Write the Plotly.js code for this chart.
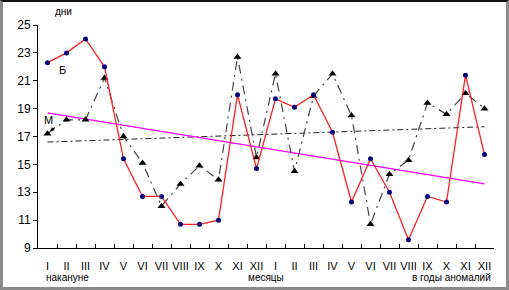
<!DOCTYPE html>
<html><head><meta charset="utf-8">
<script src="https://cdn.plot.ly/plotly-3.0.1.min.js"></script>
<style>
html,body{margin:0;padding:0;background:#fff;}
#chart{position:absolute;left:0;top:0;width:509px;height:290px;}
#frame{position:absolute;left:0;top:0;width:509px;height:290px;box-sizing:border-box;border-top:2px solid #111;border-left:3px solid #8a8a8a;border-right:3px solid #8a8a8a;border-bottom:3px solid #8a8a8a;pointer-events:none;z-index:10;}
</style></head><body>
<div id="chart"></div><div id="frame"></div>
<script>
var months = ["I","II","III","IV","V","VI","VII","VIII","IX","X","XI","XII","I","II","III","IV","V","VI","VII","VIII","IX","X","XI","XII"];
var seriesB = [22.3,23.0,24.0,22.0,15.4,12.7,12.7,10.7,10.7,11.0,20.0,14.7,19.7,19.1,20.0,17.3,12.3,15.4,13.0,9.6,12.7,12.3,21.4,15.7];
var seriesM = [17.2,18.2,18.2,21.2,17.0,15.1,12.0,13.6,14.9,13.9,22.7,15.5,21.5,14.5,19.9,21.5,18.5,10.7,14.3,15.3,19.4,18.6,20.1,19.0];
var trendB = [18.7,13.6];
var trendM = [16.6,17.7];
var yTicks = [9,11,13,15,17,19,21,23,25];

var idx = months.map(function(_,i){return i;});
var ends = [0, months.length-1];
var fam = "Liberation Sans, Arial, sans-serif";

var between = [];
for (var i=0;i<=months.length;i++) between.push(i-0.5);

var traces = [
 {x:ends, y:trendM, mode:"lines", line:{color:"#222", width:1, dash:"6px,3px,2px,3px"}, hoverinfo:"skip"},
 {x:ends, y:trendB, mode:"lines", line:{color:"#ff00ff", width:1.3}, hoverinfo:"skip"},
 {x:idx, y:seriesM, mode:"lines+markers", line:{color:"#444", width:1.2, dash:"9px,5px,2px,5px"},
  marker:{symbol:"triangle-up", size:7, color:"#000"}},
 {x:idx, y:seriesB, mode:"lines+markers", line:{color:"#ff2020", width:1.3},
  marker:{symbol:"circle", size:5, color:"#000080"}},
 {x:idx, y:seriesB, xaxis:"x2", mode:"markers", marker:{opacity:0, size:1}, hoverinfo:"skip"}
];

var layout = {
 width:509, height:290, showlegend:false,
 paper_bgcolor:"#fff", plot_bgcolor:"#fff",
 margin:{l:38, r:15, t:25, b:42},
 font:{family:fam, size:11, color:"#000"},
 xaxis:{range:[-0.5,23.5], tickmode:"array", tickvals:between, ticks:"inside", ticklen:4, tickcolor:"#000", showticklabels:false, showgrid:false,
   zeroline:false, showline:true, linecolor:"#000", linewidth:1},
 xaxis2:{range:[-0.5,23.5], overlaying:"x", side:"bottom", anchor:"y", tickmode:"array", tickvals:idx, ticktext:months,
   ticks:"outside", ticklen:8, tickcolor:"rgba(0,0,0,0)", showgrid:false, zeroline:false, showline:false,
   tickfont:{family:fam,size:11,color:"#000"}},
 yaxis:{range:[9,25], tickmode:"array", tickvals:yTicks, ticks:"outside", ticklen:4, tickcolor:"#000", showgrid:false,
   zeroline:false, showline:true, linecolor:"#000", linewidth:1, tickfont:{family:fam,size:12,color:"#000"}},
 annotations:[
  {xref:"paper", yref:"paper", x:0.055, y:1.06, text:"дни", showarrow:false, xanchor:"center", yanchor:"middle", font:{family:fam,size:10}},
  {xref:"x", yref:"y", x:0.8, y:21.8, text:"Б", showarrow:false, font:{family:fam,size:11}},
  {xref:"x", yref:"y", x:0.05, y:17.6, text:"М", showarrow:false, xanchor:"center", yanchor:"bottom", font:{family:fam,size:11}},
  {xref:"x", yref:"y", x:0.05, y:17.3, ax:8, ay:-6, showarrow:true, arrowhead:2, arrowsize:0.8, arrowwidth:1, arrowcolor:"#000", text:"", standoff:2},
  {xref:"x", yref:"paper", x:-0.2, y:-0.1, text:"накануне", showarrow:false, xanchor:"left", yanchor:"top", font:{family:fam,size:10}},
  {xref:"x", yref:"paper", x:11.5, y:-0.1, text:"месяцы", showarrow:false, xanchor:"center", yanchor:"top", font:{family:fam,size:10}},
  {xref:"x", yref:"paper", x:23.45, y:-0.1, text:"в годы аномалий", showarrow:false, xanchor:"right", yanchor:"top", font:{family:fam,size:10}}
 ]
};
Plotly.newPlot("chart", traces, layout, {staticPlot:true, displayModeBar:false});
</script>
</body></html>
